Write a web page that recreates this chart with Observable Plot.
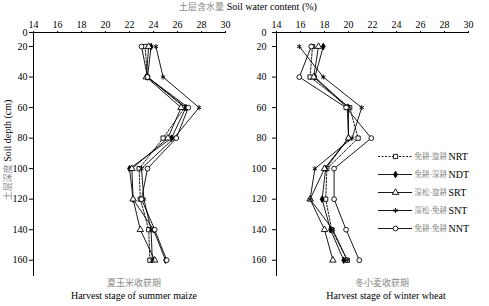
<!DOCTYPE html>
<html><head><meta charset="utf-8">
<script src="https://cdn.jsdelivr.net/npm/d3@7"></script>
<script src="https://cdn.jsdelivr.net/npm/@observablehq/plot@0.6"></script>
<style>
body{margin:0;background:#fff;}
#wrap{position:relative;width:489px;height:306px;overflow:hidden;font-family:"Liberation Serif","Times New Roman",serif;font-size:10px;color:#000;}
.abs{position:absolute;white-space:nowrap;line-height:1;}
.cn{color:#8a8a8a;font-family:"Noto Sans CJK SC",sans-serif;font-size:9px;}
#left,#right,#legend{position:absolute;top:0;}
</style></head><body>
<div id="wrap">
  <div id="left" style="left:0px"></div>
  <div id="right" style="left:245px"></div>
  <div id="legend" style="left:370px;top:130px"></div>
  <div class="abs" style="left:248px;top:2px;transform:translateX(-50%)"><span class="cn">土层含水量</span> Soil water content (%)</div>
  <div class="abs" style="left:8px;top:150px;transform:translate(-50%,-50%) rotate(-90deg)"><span class="cn">土层深度</span> Soil depth (cm)</div>
  <div class="abs cn" style="left:134px;top:278px;transform:translateX(-50%)">夏玉米收获期</div>
  <div class="abs" style="left:134px;top:291px;transform:translateX(-50%)">Harvest stage of summer maize</div>
  <div class="abs cn" style="left:382px;top:278px;transform:translateX(-50%)">冬小麦收获期</div>
  <div class="abs" style="left:386px;top:291px;transform:translateX(-50%)">Harvest stage of winter wheat</div>
</div>
<script>
const depths = [20, 40, 60, 80, 100, 120, 140, 160];
const seriesCodes = ["NRT", "NDT", "SRT", "SNT", "NNT"];
const seriesCN = ["免耕-旋耕", "免耕-深耕", "深松-旋耕", "深松-免耕", "免耕-免耕"];
const xTicks = [14, 16, 18, 20, 22, 24, 26, 28, 30];
const yTicks = [0, 20, 40, 60, 80, 100, 120, 140, 160];

// Summer maize harvest (soil water content %)
const maizeNRT = [23.3, 23.5, 26.6, 24.8, 22.8, 22.9, 23.6, 23.7];
const maizeNDT = [23.8, 23.5, 26.7, 25.5, 22.0, 22.3, 24.0, 25.0];
const maizeSRT = [23.6, 23.4, 26.3, 25.2, 22.2, 22.3, 22.9, 24.1];
const maizeSNT = [24.2, 24.8, 27.8, 25.7, 23.0, 23.2, 23.8, 23.9];
const maizeNNT = [23.0, 23.5, 26.9, 25.9, 23.5, 23.0, 24.1, 25.1];

// Winter wheat harvest
const wheatNRT = [17.0, 16.8, 20.1, 20.8, 18.2, 18.1, 18.6, 19.9];
const wheatNDT = [17.9, 17.2, 20.0, 20.0, 18.1, 17.8, 18.5, 19.6];
const wheatSRT = [17.5, 17.1, 19.9, 20.0, 18.0, 16.8, 18.0, 18.7];
const wheatSNT = [15.9, 17.9, 21.1, 20.3, 17.2, 16.8, 18.7, 19.9];
const wheatNNT = [16.9, 15.9, 19.8, 21.9, 18.8, 18.8, 19.8, 20.9];

const symbols = {NRT: "square", NDT: "diamond", SRT: "triangle", SNT: "asterisk", NNT: "circle"};
const fills = {NRT: "white", NDT: "black", SRT: "white", SNT: "none", NNT: "white"};
const dashes = {NRT: "2,1.5", NDT: null, SRT: null, SNT: null, NNT: null};

function rows(arrs) {
  const out = [];
  seriesCodes.forEach((s, i) => depths.forEach((d, j) => out.push({s, d, v: arrs[i][j]})));
  return out;
}
const maize = rows([maizeNRT, maizeNDT, maizeSRT, maizeSNT, maizeNNT]);
const wheat = rows([wheatNRT, wheatNDT, wheatSRT, wheatSNT, wheatNNT]);

// The original axis squeezes the 0–20 band; its "0" sits at the top of the axis.
const axisTop = 10.8;
const yTickPos = yTicks.map(t => (t === 0 ? axisTop : t));

function panel(data, width, ml, mr, pad) {
  const marks = [];
  for (const s of seriesCodes) {
    const sub = data.filter(r => r.s === s);
    marks.push(Plot.line(sub, {x: "v", y: "d", stroke: "black", strokeWidth: 0.9, strokeDasharray: dashes[s]}));
  }
  for (const s of seriesCodes) {
    const sub = data.filter(r => r.s === s);
    marks.push(Plot.dot(sub, {x: "v", y: "d", symbol: symbols[s], r: s === "NDT" ? 2 : 2.4, fill: fills[s], stroke: "black", strokeWidth: 0.9}));
  }
  return Plot.plot({
    width, height: 306,
    marginLeft: ml, marginRight: mr, marginTop: 32, marginBottom: 31,
    style: {fontFamily: "'Liberation Serif', serif", fontSize: "10px", background: "transparent", color: "black"},
    x: {domain: [14, 30], axis: "top", ticks: xTicks, tickSize: 2, tickPadding: 3, line: true, label: null},
    y: {domain: [axisTop, 170], range: [32, 275], ticks: yTickPos, tickFormat: d => (d === axisTop ? "0" : d), tickSize: 4, tickPadding: pad, line: true, label: null},
    marks
  });
}

document.getElementById("left").appendChild(panel(maize, 245, 33, 20, 2));
document.getElementById("right").appendChild(panel(wheat, 244, 31, 21, 6));

const legendData = seriesCodes.map((s, i) => ({s, cn: seriesCN[i]}));
const legMarks = [];
for (const r of legendData) {
  legMarks.push(Plot.ruleY([r], {y: "s", x1: 0, x2: 1, stroke: "black", strokeWidth: 0.9, strokeDasharray: dashes[r.s]}));
  legMarks.push(Plot.dot([r], {x: 0.5, y: "s", symbol: symbols[r.s], r: r.s === "NDT" ? 2 : 2.4, fill: fills[r.s], stroke: "black", strokeWidth: 0.9}));
}
legMarks.push(Plot.text(legendData, {x: 1, y: "s", text: "cn", dx: 2, textAnchor: "start", fill: "#8a8a8a", fontFamily: "'Noto Sans CJK SC', sans-serif", fontSize: 7.5}));
legMarks.push(Plot.text(legendData, {x: 1, y: "s", text: "s", dx: 36, textAnchor: "start", fill: "black", fontSize: 10}));
document.getElementById("legend").appendChild(Plot.plot({
  width: 119, height: 125, margin: 0,
  style: {fontFamily: "'Liberation Serif', serif", fontSize: "10px", background: "transparent"},
  x: {domain: [0, 1], range: [8, 42], axis: null},
  y: {type: "point", domain: seriesCodes, range: [15, 108.3], axis: null},
  marks: legMarks
}));
</script>
</body></html>
